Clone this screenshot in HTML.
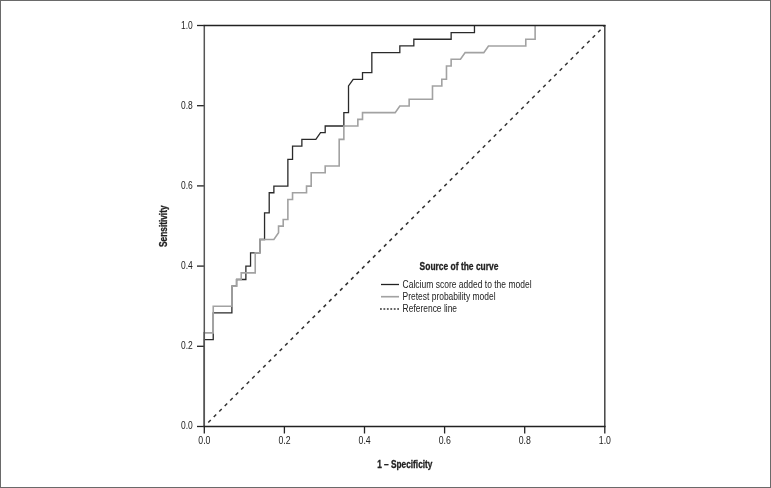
<!DOCTYPE html>
<html><head><meta charset="utf-8"><style>
html,body{margin:0;padding:0;background:#fff;}
body{width:771px;height:488px;overflow:hidden;}
svg{display:block;will-change:transform;}
text{font-family:"Liberation Sans", sans-serif;}
</style></head><body>
<svg width="771" height="488" viewBox="0 0 771 488" font-family="Liberation Sans, sans-serif">
<rect x="0.5" y="0.5" width="770" height="487" fill="#fff" stroke="#6a6a6a" stroke-width="1"/>
<line x1="208.25" y1="422.55" x2="604.80" y2="25.50" stroke="#333" stroke-width="1.5" stroke-dasharray="3.5 4.27"/>
<polyline points="203.90,426.35 203.90,339.59 213.23,339.59 213.23,312.89 231.89,312.89 231.89,286.20 236.56,286.20 236.56,279.52 245.88,279.52 245.88,266.17 250.55,266.17 250.55,252.83 259.88,252.83 259.88,239.48 264.55,239.48 264.55,212.78 269.21,212.78 269.21,192.76 273.88,192.76 273.88,186.09 287.87,186.09 287.87,159.39 292.54,159.39 292.54,146.04 301.87,146.04 301.87,139.37 315.86,139.37 320.52,132.69 325.19,132.69 325.19,126.02 343.85,126.02 343.85,112.67 348.51,112.67 348.51,85.98 353.18,79.30 362.51,79.30 362.51,72.63 371.84,72.63 371.84,52.61 399.83,52.61 399.83,45.93 413.83,45.93 413.83,39.26 451.14,39.26 451.14,32.58 474.47,32.58 474.47,25.91" fill="none" stroke="#2a2a2a" stroke-width="1.3" stroke-linejoin="miter"/>
<polyline points="203.90,426.35 203.90,332.91 213.23,332.91 213.23,306.22 231.89,306.22 231.89,286.20 236.56,286.20 236.56,279.52 241.22,279.52 241.22,272.85 255.22,272.85 255.22,252.83 259.88,252.83 259.88,239.48 273.88,239.48 278.54,232.80 278.54,226.13 283.21,226.13 283.21,219.46 287.87,219.46 287.87,199.43 292.54,199.43 292.54,192.76 306.53,192.76 306.53,186.09 311.19,186.09 311.19,172.74 325.19,172.74 325.19,166.06 339.19,166.06 339.19,139.37 343.85,139.37 343.85,126.02 357.85,126.02 357.85,119.35 362.51,119.35 362.51,112.67 395.17,112.67 399.83,106.00 409.16,106.00 409.16,99.32 432.49,99.32 432.49,85.98 441.81,85.98 441.81,79.30 446.48,79.30 446.48,65.95 451.14,65.95 451.14,59.28 460.48,59.28 465.14,52.61 483.80,52.61 488.47,45.93 525.78,45.93 525.78,39.26 535.12,39.26 535.12,25.91" fill="none" stroke="#a2a2a2" stroke-opacity="1" stroke-width="1.6" stroke-linejoin="miter"/>
<g stroke="#222" stroke-width="1.3" fill="none">
<line x1="197" y1="426.50" x2="204.30" y2="426.50"/><line x1="204.30" y1="426.50" x2="204.30" y2="433.5"/><line x1="197" y1="346.30" x2="204.30" y2="346.30"/><line x1="284.40" y1="426.50" x2="284.40" y2="433.5"/><line x1="197" y1="266.10" x2="204.30" y2="266.10"/><line x1="364.50" y1="426.50" x2="364.50" y2="433.5"/><line x1="197" y1="185.90" x2="204.30" y2="185.90"/><line x1="444.60" y1="426.50" x2="444.60" y2="433.5"/><line x1="197" y1="105.70" x2="204.30" y2="105.70"/><line x1="524.70" y1="426.50" x2="524.70" y2="433.5"/><line x1="197" y1="25.50" x2="204.30" y2="25.50"/><line x1="604.80" y1="426.50" x2="604.80" y2="433.5"/>
</g>
<line x1="204.30" y1="427.10" x2="204.30" y2="24.90" stroke="#555" stroke-width="1.5"/>
<line x1="604.80" y1="427.10" x2="604.80" y2="24.90" stroke="#444" stroke-width="1.5"/>
<line x1="203.60" y1="426.50" x2="605.50" y2="426.50" stroke="#222" stroke-width="1.3"/>
<line x1="203.60" y1="25.50" x2="605.50" y2="25.50" stroke="#222" stroke-width="1.3"/>
<text transform="translate(192.7,428.8) scale(0.815,1)" font-size="10.4" text-anchor="end" fill="#222">0.0</text><text transform="translate(204.4,443.9) scale(0.84,1)" font-size="10.4" text-anchor="middle" fill="#222">0.0</text><text transform="translate(192.7,348.8) scale(0.815,1)" font-size="10.4" text-anchor="end" fill="#222">0.2</text><text transform="translate(284.5,443.9) scale(0.84,1)" font-size="10.4" text-anchor="middle" fill="#222">0.2</text><text transform="translate(192.7,268.8) scale(0.815,1)" font-size="10.4" text-anchor="end" fill="#222">0.4</text><text transform="translate(364.6,443.9) scale(0.84,1)" font-size="10.4" text-anchor="middle" fill="#222">0.4</text><text transform="translate(192.7,188.8) scale(0.815,1)" font-size="10.4" text-anchor="end" fill="#222">0.6</text><text transform="translate(444.7,443.9) scale(0.84,1)" font-size="10.4" text-anchor="middle" fill="#222">0.6</text><text transform="translate(192.7,108.80000000000001) scale(0.815,1)" font-size="10.4" text-anchor="end" fill="#222">0.8</text><text transform="translate(524.8000000000001,443.9) scale(0.84,1)" font-size="10.4" text-anchor="middle" fill="#222">0.8</text><text transform="translate(192.7,28.80000000000001) scale(0.815,1)" font-size="10.4" text-anchor="end" fill="#222">1.0</text><text transform="translate(604.9,443.9) scale(0.84,1)" font-size="10.4" text-anchor="middle" fill="#222">1.0</text>
<text transform="translate(404.8,468.4) scale(0.83,1)" font-size="10" text-anchor="middle" font-weight="bold" stroke="#222" stroke-width="0.3" fill="#222">1 – Specificity</text>
<text transform="translate(166.9,226.2) rotate(-90) scale(0.83,1)" font-size="10" text-anchor="middle" font-weight="bold" stroke="#222" stroke-width="0.3" fill="#222">Sensitivity</text>
<text transform="translate(419.6,270.2) scale(0.845,1)" font-size="10" text-anchor="start" font-weight="bold" stroke="#222" stroke-width="0.3" fill="#222">Source of the curve</text>
<line x1="381" y1="284.5" x2="399" y2="284.5" stroke="#222" stroke-width="1.3"/>
<line x1="381" y1="296.7" x2="399" y2="296.7" stroke="#a2a2a2" stroke-opacity="1" stroke-width="1.65"/>
<line x1="380" y1="309" x2="399" y2="309" stroke="#333" stroke-width="1.5" stroke-dasharray="1.8 1.65"/>
<text transform="translate(402.6,288.2) scale(0.852,1)" font-size="10" text-anchor="start" fill="#222">Calcium score added to the model</text>
<text transform="translate(402.6,300.2) scale(0.845,1)" font-size="10" text-anchor="start" fill="#222">Pretest probability model</text>
<text transform="translate(402.6,312.4) scale(0.845,1)" font-size="10" text-anchor="start" fill="#222">Reference line</text>
</svg>
</body></html>
